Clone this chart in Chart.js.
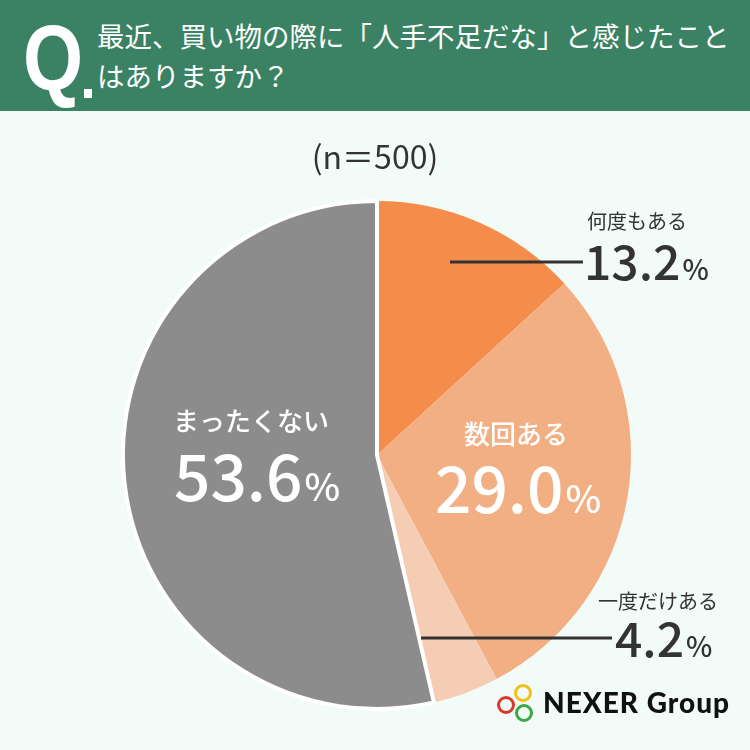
<!DOCTYPE html>
<html><head><meta charset="utf-8">
<script src="https://cdn.jsdelivr.net/npm/chart.js@4.4.1/dist/chart.umd.min.js"></script>
<style>
html,body{margin:0;padding:0;width:750px;height:750px;background:#f3fbf8;overflow:hidden;font-family:"Noto Sans CJK JP",sans-serif;}
#hdr{position:absolute;left:0;top:0;width:750px;height:111px;background:#3a8263;}
#q{position:absolute;left:23px;top:8px;color:#fff;font-family:"Liberation Sans Narrow","Liberation Sans",sans-serif;font-weight:700;font-size:92px;line-height:100px;transform:scaleX(0.84);transform-origin:left;}
#qdot{position:absolute;left:84px;top:89px;width:8px;height:9px;background:#fff;}
#title{position:absolute;left:97px;top:15px;color:#fff;font-size:27.5px;line-height:40px;font-weight:400;white-space:nowrap;}
#c{position:absolute;left:0;top:0;}
#logo{position:absolute;left:497px;top:683px;width:250px;height:45px;}
.ring{position:absolute;width:12px;height:12px;border-radius:50%;border:3.5px solid;}
#logotext{position:absolute;left:46px;top:2px;font-family:"Lato","Noto Sans",sans-serif;font-weight:900;font-size:28px;color:#111;letter-spacing:1px;white-space:nowrap;}
</style></head>
<body>
<div id="hdr"><div id="q">Q</div><div id="qdot"></div>
<div id="title">最近、買い物の際に「人手不足だな」と感じたこと<br>はありますか？</div></div>
<canvas id="c" width="750" height="750"></canvas>
<div id="logo">
<div class="ring" style="left:17px;top:1px;border-color:#f2c018;"></div>
<div class="ring" style="left:0px;top:13px;border-color:#d9392b;"></div>
<div class="ring" style="left:18px;top:21px;border-color:#3aa845;"></div>
<div id="logotext">NEXER Group</div>
</div>
<script>
const categories = ["何度もある","数回ある","一度だけある","まったくない"];
const values = [13.2, 29.0, 4.2, 53.6];
const colors = ["#f48c4c","#f3af84","#f5cdb5","#8c8c8c"];
const sampleLabel = "(n＝500)";

const labelPlugin = {
  id:'labels',
  afterDraw(chart){
    const ctx = chart.ctx;
    ctx.save();
    const f = (w,s)=>`${w} ${s}px "Noto Sans CJK JP", sans-serif`;
    ctx.fillStyle = "#333";
    ctx.textAlign = "center"; ctx.textBaseline = "middle";
    ctx.font = f(400,32);
    ctx.fillText(sampleLabel, 375, 157);
    function pct(val, x, y, big, small, color, align){
      ctx.fillStyle = color;
      const t = val.toFixed(1);
      ctx.font = f(500,big);
      const w1 = ctx.measureText(t).width;
      ctx.font = f(500,small);
      const w2 = ctx.measureText("%").width;
      let sx = align==='center' ? x - (w1+w2+2)/2 : x;
      ctx.textAlign = "left"; ctx.textBaseline = "alphabetic";
      ctx.font = f(500,big);
      ctx.fillText(t, sx, y);
      ctx.font = f(500,small);
      ctx.fillText("%", sx + w1 + 2, y);
    }
    ctx.strokeStyle = "#333"; ctx.lineWidth = 3;
    ctx.beginPath(); ctx.moveTo(450,262); ctx.lineTo(583,262); ctx.stroke();
    ctx.beginPath(); ctx.moveTo(421,638); ctx.lineTo(612,638); ctx.stroke();
    ctx.fillStyle = "#333"; ctx.textAlign = "left"; ctx.textBaseline = "middle";
    ctx.font = f(400,20);
    ctx.fillText(categories[0], 587, 221);
    pct(values[0], 584, 280, 48, 28, "#333", 'left');
    ctx.fillStyle = "#333"; ctx.textAlign = "left"; ctx.textBaseline = "middle";
    ctx.font = f(400,20);
    ctx.fillText(categories[2], 598, 601);
    pct(values[2], 615, 657, 48, 28, "#333", 'left');
    ctx.fillStyle = "#fff"; ctx.textAlign = "center"; ctx.textBaseline = "middle";
    ctx.font = f(500,26);
    ctx.fillText(categories[1], 516, 434);
    pct(values[1], 518, 513, 64, 38, "#fff", 'center');
    ctx.fillStyle = "#fff"; ctx.textAlign = "center"; ctx.textBaseline = "middle";
    ctx.font = f(500,26);
    ctx.fillText(categories[3], 251, 421);
    pct(values[3], 257, 501, 64, 38, "#fff", 'center');
    ctx.restore();
  }
};

new Chart(document.getElementById('c'), {
  type:'pie',
  data:{labels:categories, datasets:[{data:values, backgroundColor:colors, borderColor:["#f48c4c","#f3af84","#f5cdb5","#ffffff"], borderWidth:[0,0,0,4]}]},
  options:{
    responsive:false, animation:false, events:[],
    layout:{padding:{left:121, right:117, top:199, bottom:39}},
    plugins:{legend:{display:false}, tooltip:{enabled:false}}
  },
  plugins:[labelPlugin]
});
</script>
</body></html>
